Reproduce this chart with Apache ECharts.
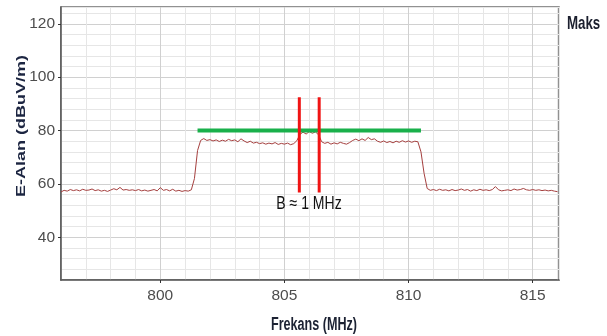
<!DOCTYPE html>
<html>
<head>
<meta charset="utf-8">
<script src="https://cdn.jsdelivr.net/npm/echarts@6/dist/echarts.min.js"></script>
<style>
html,body{margin:0;padding:0;background:#fff;}
#chart{width:607px;height:336px;}
</style>
</head>
<body>
<div id="chart"></div>
<script>
// ---- data ----
const freqStart = 796;      // MHz, first sample
const freqStep = 0.125;     // MHz between samples
const traceLevel = [
  57.0, 57.6, 57.3, 57.9, 57.5, 57.8, 57.4, 58.0,
  57.6, 57.7, 58.1, 57.5, 57.8, 57.3, 57.6, 57.2,
  57.7, 58.2, 57.8, 58.7, 57.7, 57.9, 57.6, 57.8,
  57.5, 57.9, 57.4, 57.7, 57.3, 57.6, 57.9, 57.4,
  58.6, 57.6, 57.9, 57.4, 58.0, 57.3, 57.6, 57.2,
  57.5, 57.3, 57.8, 62.0, 72.5, 76.3, 77.0, 76.3,
  76.6, 76.1, 76.5, 75.9, 76.4, 76.0, 76.7, 76.2,
  76.5, 75.8, 76.9, 76.1, 75.5, 76.0, 75.3, 75.6,
  75.1, 75.4, 74.9, 75.3, 75.0, 75.5, 74.8, 75.2,
  74.9, 75.3, 74.7, 75.1, 76.2, 78.6, 79.4, 78.7,
  79.6, 79.0, 79.5, 78.4, 75.8, 75.2, 75.6, 74.9,
  75.4, 75.0, 75.6, 75.2, 74.9, 75.5, 76.3, 76.8,
  76.2, 76.9, 76.3, 77.4, 76.6, 76.9, 76.0, 75.6,
  76.1, 75.5, 75.9, 75.4, 76.0, 75.6, 76.2, 75.7,
  76.1, 75.6, 76.0, 75.8, 72.0, 64.0, 58.3, 57.6,
  57.9, 57.5, 58.0, 57.6, 57.8, 57.4, 57.9, 57.5,
  57.7, 58.1, 57.6, 57.9, 57.3, 57.8, 57.5, 58.0,
  57.6, 57.8, 57.5, 57.9, 59.0, 57.8, 57.4, 57.6,
  57.8, 57.5, 58.1, 57.7, 57.9, 58.3, 57.8, 57.6,
  57.9, 57.6, 57.8, 57.5, 57.7, 57.4, 57.6, 57.3,
  57.1
];
const limitFreqs = [801.5, 810.5];   // green limit line span
const limitLevel = 80;
const markerFreqs = [805.6, 806.4];  // red bandwidth markers
const markerLevels = [56.8, 92.5];
const xTickLabels = [800, 805, 810, 815];
const yTickLabels = [40, 60, 80, 100, 120];
const xRange = [796, 816.06];
const yRange = [24, 126.3];
const bandLabel = 'B ≈ 1 MHz';
const legendLabel = 'Maks';
const xTitle = 'Frekans (MHz)';
const yTitle = 'E-Alan (dBuV/m)';

// ---- build ----
const traceData = traceLevel.map((v, i) => [freqStart + i * freqStep, v]);
const limitData = limitFreqs.map(f => [f, limitLevel]);
const markerSeries = markerFreqs.map(f => ({
  type: 'line', showSymbol: false, silent: true, z: 4,
  data: markerLevels.map(l => [f, l]),
  lineStyle: { color: '#f01414', width: 3 }
}));

const minorCol = '#e6e6e6', majorCol = '#d0d0d0';
const labelFont = '"Liberation Sans Narrow", "Liberation Sans", sans-serif';
const gridAxisX = {
  type: 'value', min: xRange[0], max: xRange[1], interval: 1,
  axisLine: { show: true, onZero: false, lineStyle: { color: '#555', width: 1.5 } },
  axisTick: { show: false },
  axisLabel: { customValues: xTickLabels, margin: 8, color: '#4d4d4d', fontSize: 15.5, fontFamily: labelFont },
  splitLine: { show: true, lineStyle: { color: [minorCol, minorCol, minorCol, minorCol, majorCol], width: 1 } }
};
const gridAxisY = {
  type: 'value', min: yRange[0], max: yRange[1], interval: 4,
  axisLine: { show: true, onZero: false, lineStyle: { color: '#555', width: 1.5 } },
  axisTick: { show: false },
  axisLabel: { customValues: yTickLabels, margin: 6, color: '#4d4d4d', fontSize: 15.5, fontFamily: labelFont },
  splitLine: { show: true, lineStyle: { color: [minorCol, minorCol, minorCol, minorCol, majorCol], width: 1 } }
};
const tickAxis = (range, vals, pos) => ({
  type: 'value', min: range[0], max: range[1], position: pos,
  axisLine: { show: false, onZero: false },
  axisTick: { show: true, customValues: vals, length: 3, lineStyle: { color: '#333' } },
  axisLabel: { show: false },
  splitLine: { show: false }
});

const chart = echarts.init(document.getElementById('chart'), null, { renderer: 'canvas' });
chart.setOption({
  animation: false,
  backgroundColor: '#ffffff',
  grid: { left: 61, right: 48, top: 7, bottom: 56, show: true, borderColor: '#6e6e6e', borderWidth: 1.5, backgroundColor: '#ffffff' },
  xAxis: [gridAxisX, tickAxis(xRange, xTickLabels, 'bottom')],
  yAxis: [gridAxisY, tickAxis(yRange, yTickLabels, 'left')],
  series: [
    { type: 'line', showSymbol: false, silent: true, z: 2, data: traceData,
      lineStyle: { color: '#a5403f', width: 1 } },
    { type: 'line', showSymbol: false, silent: true, z: 3, data: limitData,
      lineStyle: { color: '#19b04b', width: 4 } },
    ...markerSeries
  ],
  graphic: [
    { type: 'text', x: 309, y: 204, scaleX: 0.78, z: 10,
      style: { text: bandLabel, textAlign: 'center', textVerticalAlign: 'middle', font: '18px "Liberation Sans", sans-serif', fill: '#111' } },
    { type: 'text', x: 567, y: 24, scaleX: 0.7, z: 10,
      style: { text: legendLabel, textAlign: 'left', textVerticalAlign: 'middle', font: 'bold 19px "Liberation Sans", sans-serif', fill: '#1b1f2e' } },
    { type: 'text', x: 314, y: 325, scaleX: 0.70, z: 10,
      style: { text: xTitle, textAlign: 'center', textVerticalAlign: 'middle', font: 'bold 18px "Liberation Sans", sans-serif', fill: '#1c2233' } },
    { type: 'text', x: 21, y: 126, rotation: Math.PI / 2, scaleY: 0.72, z: 10,
      style: { text: yTitle, textAlign: 'center', textVerticalAlign: 'middle', font: 'bold 18px "Liberation Sans", sans-serif', fill: '#1c2541' } }
  ]
});
</script>
</body>
</html>
